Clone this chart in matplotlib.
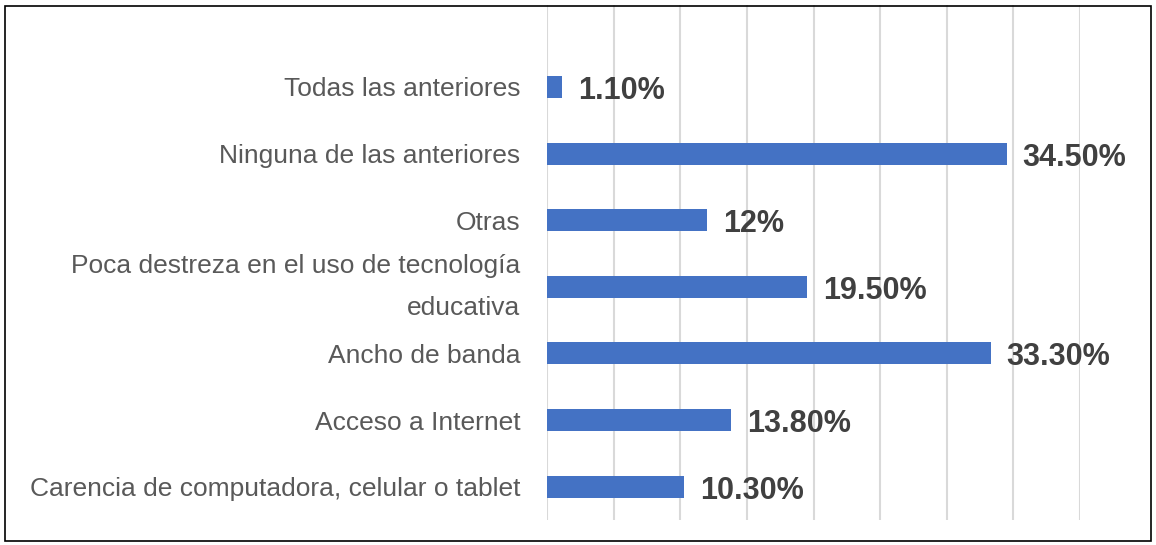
import matplotlib
matplotlib.use("Agg")
import matplotlib.pyplot as plt
from matplotlib.patches import Rectangle

categories = [
    "Carencia de computadora, celular o tablet",
    "Acceso a Internet",
    "Ancho de banda",
    "Poca destreza en el uso de tecnología\neducativa",
    "Otras",
    "Ninguna de las anteriores",
    "Todas las anteriores",
]
values = [10.3, 13.8, 33.3, 19.5, 12.0, 34.5, 1.1]
value_labels = ["10.30%", "13.80%", "33.30%", "19.50%", "12%", "34.50%", "1.10%"]

plt.rcParams['font.family'] = ['Liberation Sans', 'DejaVu Sans']

fig = plt.figure(figsize=(11.56, 5.45), dpi=100)
ax = fig.add_axes([547/1156, 1 - 520/545, (1080-547)/1156, (520-5)/545])

ypos = list(range(len(categories)))
ax.barh(ypos, values, height=0.33, color="#4472C4", zorder=3)
for y, v, lab in zip(ypos, values, value_labels):
    ax.text(v + 1.2, y - 0.06, lab, va="center", ha="left", fontsize=22,
            fontweight="bold", color="#404040")

ax.set_xlim(0, 40)
ax.set_ylim(-0.5, 7.23)
ax.set_xticks(range(0, 41, 5))
ax.set_xticklabels([])
ax.set_yticks(ypos)
ax.set_yticklabels(categories, fontsize=19, color="#595959", linespacing=1.95)
ax.tick_params(axis="both", length=0, pad=19)
# the two-line label sits centred on its bar
for lbl in ax.get_yticklabels():
    if "\n" in lbl.get_text():
        lbl.set_va("center")
ax.grid(axis="x", color="#D9D9D9", linewidth=1.5, zorder=0)
for s in ax.spines.values():
    s.set_visible(False)

fig.patches.append(Rectangle((5/1156, 1 - 541/545), 1146/1156, 535/545,
                             transform=fig.transFigure, fill=False,
                             edgecolor="#000000", linewidth=1.2))

fig.savefig("out.png", dpi=100)
